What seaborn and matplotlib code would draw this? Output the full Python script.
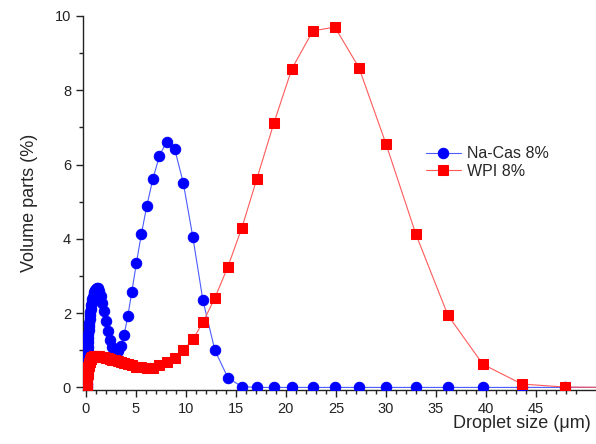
import numpy as np
import pandas as pd
import seaborn as sns
import matplotlib

matplotlib.use('Agg')
import matplotlib.pyplot as plt
from matplotlib.ticker import MultipleLocator, FixedLocator

# droplet size classes (um)
size_um = [0.07, 0.08, 0.09, 0.10, 0.11, 0.12, 0.13, 0.14, 0.16, 0.17, 0.19, 0.21, 0.23,
           0.25, 0.28, 0.30, 0.33, 0.37, 0.40, 0.44, 0.49, 0.53, 0.59, 0.64, 0.71,
           0.78, 0.85, 0.94, 1.03, 1.13, 1.24, 1.36, 1.50, 1.65, 1.81, 1.98, 2.18,
           2.39, 2.63, 2.88, 3.17, 3.48, 3.82, 4.19, 4.60, 5.05, 5.55, 6.09, 6.69,
           7.35, 8.07, 8.87, 9.74, 10.7, 11.7, 12.9, 14.2, 15.6, 17.1, 18.8, 20.6,
           22.7, 24.9, 27.3, 30.0, 33.0, 36.2, 39.7, 43.6, 47.9, 52.6]

# volume parts (%) - sodium caseinate
nacas = [0.0, 0.10, 0.22, 0.35, 0.45, 0.55, 0.66, 0.77, 0.88, 0.99, 1.10, 1.21, 1.32,
         1.43, 1.54, 1.64, 1.74, 1.84, 1.94, 2.03, 2.12, 2.21, 2.29, 2.37, 2.44,
         2.51, 2.57, 2.62, 2.66, 2.68, 2.67, 2.60, 2.45, 2.28, 2.05, 1.78, 1.52,
         1.28, 1.10, 1.01, 0.99, 1.12, 1.41, 1.91, 2.58, 3.34, 4.13, 4.88, 5.60,
         6.23, 6.62, 6.43, 5.51, 4.04, 2.35, 1.00, 0.26, 0.02, 0.0, 0.0, 0.0,
         0.0, 0.0, 0.0, 0.0, 0.0, 0.0, 0.0, 0.0, 0.0, 0.0]

# volume parts (%) - whey protein isolate
wpi = [0.0, 0.0, 0.02, 0.05, 0.10, 0.15, 0.20, 0.25, 0.30, 0.35, 0.40, 0.45, 0.50,
       0.54, 0.58, 0.62, 0.66, 0.69, 0.72, 0.75, 0.77, 0.79, 0.81, 0.82, 0.83,
       0.84, 0.84, 0.85, 0.85, 0.85, 0.84, 0.84, 0.83, 0.82, 0.81, 0.80, 0.78,
       0.77, 0.75, 0.73, 0.71, 0.68, 0.65, 0.62, 0.59, 0.56, 0.54, 0.52, 0.53,
       0.59, 0.68, 0.80, 1.00, 1.29, 1.75, 2.41, 3.25, 4.30, 5.62, 7.12, 8.58,
       9.60, 9.70, 8.61, 6.56, 4.12, 1.94, 0.62, 0.09, 0.01, 0.0]

df = pd.DataFrame({"size": size_um, "Na-Cas 8%": nacas, "WPI 8%": wpi})

sns.set_style("ticks")
plt.rcParams['font.family'] = ['Liberation Sans', 'DejaVu Sans']

fig = plt.figure(figsize=(5.96, 4.44), dpi=100)
ax = fig.add_axes([0.139, 0.1216, 0.861, 0.8424])

sns.lineplot(data=df, x="size", y="Na-Cas 8%", ax=ax, sort=False, color="#4a5cff",
             lw=0.8, marker="o", markersize=7.5, markerfacecolor="#0000ff",
             markeredgecolor="#0000ff", label="Na-Cas 8%", zorder=3)
sns.lineplot(data=df, x="size", y="WPI 8%", ax=ax, sort=False, color="#ff5a5a",
             lw=0.8, marker="s", markersize=6.5, markerfacecolor="#ff0000",
             markeredgecolor="#ff0000", label="WPI 8%", zorder=4)

ax.set_xlim(-0.3, 51)
ax.set_ylim(-0.07, 10)

ax.xaxis.set_major_locator(FixedLocator(list(range(0, 50, 5))))
ax.xaxis.set_minor_locator(FixedLocator(list(range(0, 50, 1))))
ax.yaxis.set_major_locator(MultipleLocator(2))
ax.yaxis.set_minor_locator(MultipleLocator(1))
ax.tick_params(axis='both', which='major', direction='out', length=5, width=1,
               labelsize=10.5, color='#222222', labelcolor='#222222')
ax.tick_params(axis='both', which='minor', direction='out', length=3, width=1,
               color='#222222')
sns.despine(ax=ax)
for s in ['left', 'bottom']:
    ax.spines[s].set_color('#222222')
    ax.spines[s].set_linewidth(1)

ax.set_xlabel("Droplet size (\u03bcm)", fontsize=13)
ax.xaxis.set_label_coords(0.855, -0.068)
ax.set_ylabel("Volume parts (%)", fontsize=13)
ax.yaxis.set_label_coords(-0.088, 0.5)

ax.legend(loc='upper left', bbox_to_anchor=(0.64, 0.69), frameon=False,
          fontsize=11.5, handlelength=2.2, handletextpad=0.4, labelspacing=0.15)

fig.savefig("out.png", dpi=100)
